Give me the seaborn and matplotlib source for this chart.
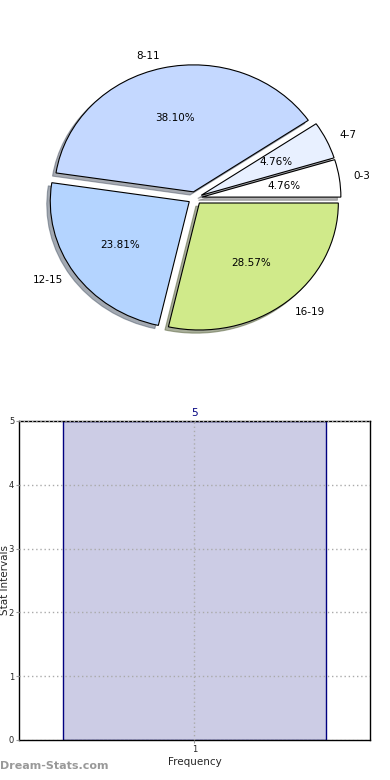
import matplotlib
matplotlib.use("Agg")
import matplotlib.pyplot as plt
import seaborn as sns
import pandas as pd

# ---- data ----
pie_labels = ["0-3", "4-7", "8-11", "12-15", "16-19"]
pie_counts = [1, 1, 8, 5, 6]
pie_colors = ["#ffffff", "#e8f0ff", "#c4d8ff", "#b4d4ff", "#d0ea8a"]

bar_categories = ["1"]
bar_values = [5]

sns.set_theme(style="white")
plt.rcParams["font.family"] = ["DejaVu Sans"]

fig = plt.figure(figsize=(3.9, 7.8), dpi=100)

# ---- pie ----
ax1 = fig.add_axes([0.0545, 0.5426, 0.891, 0.407])
wedges, texts, autotexts = ax1.pie(
    pie_counts, labels=pie_labels, colors=pie_colors,
    explode=[0.05] * len(pie_counts), autopct="%1.2f%%",
    shadow=dict(ox=-0.018, oy=-0.018, shade=0.6),
    startangle=0, counterclock=True, labeldistance=1.1, pctdistance=0.6,
    wedgeprops=dict(edgecolor="black", linewidth=0.8),
    textprops=dict(fontsize=7.5, color="black"),
)
for t in texts:
    x, _ = t.get_position()
    t.set_ha("left" if x > 0 else "right")
    t.set_va("center")
ax1.set_aspect("auto")
ax1.set_xlim(-1.25, 1.25)
ax1.set_ylim(-1.25, 1.25)
ax1.axis("off")

# ---- bar ----
ax2 = fig.add_axes([0.0487, 0.0513, 0.9, 0.409])
df = pd.DataFrame({"cat": bar_categories, "val": bar_values})
sns.barplot(data=df, x="cat", y="val", ax=ax2, color="#ccccE5",
            saturation=1, width=0.75, edgecolor="navy", linewidth=1, zorder=1)
ax2.set_xlim(-0.5, 0.5)
ax2.set_ylim(0, 5)
ax2.set_yticks(range(0, 6))
ax2.grid(True, linestyle=(0, (1, 2)), color="#aaaaaa", linewidth=1, zorder=2)
ax2.set_axisbelow(False)
for p, v in zip(ax2.patches, bar_values):
    ax2.text(p.get_x() + p.get_width() / 2, v + 0.05, str(v),
             ha="center", va="bottom", color="navy", fontsize=7.5)
ax2.set_xlabel("Frequency", fontsize=7.5, labelpad=2)
ax2.set_ylabel("Stat Intervals", fontsize=7.5)
ax2.yaxis.set_label_coords(-0.026, 0.5)
ax2.tick_params(axis="both", labelsize=6, length=2, width=0.8, color="#999999",
                direction="out", pad=1.5, left=True, bottom=True)
for s in ax2.spines.values():
    s.set_color("black")
    s.set_linewidth(1)

fig.text(0.0, 0.0115, "Dream-Stats.com", fontsize=8, color="#999999",
         fontweight="bold", ha="left", va="bottom")

fig.savefig("out.png", dpi=100)
